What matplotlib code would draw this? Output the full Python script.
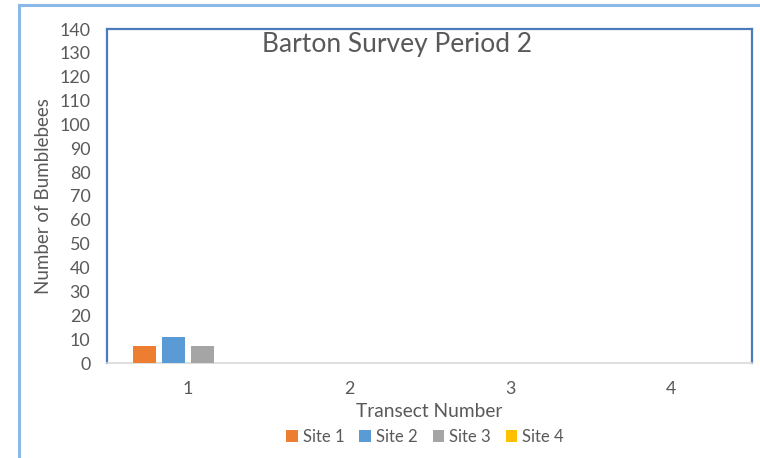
import matplotlib
matplotlib.use("Agg")
import matplotlib.pyplot as plt
from matplotlib.patches import Rectangle
import numpy as np

plt.rcParams['font.family'] = ['Lato', 'DejaVu Sans']

transects = ["1", "2", "3", "4"]
sites = ["Site 1", "Site 2", "Site 3", "Site 4"]
site1 = [7, 0, 0, 0]
site2 = [11, 0, 0, 0]
site3 = [7, 0, 0, 0]
site4 = [0, 0, 0, 0]
series = [site1, site2, site3, site4]
colors = ["#ed7d31", "#5b9bd5", "#a5a5a5", "#ffc000"]
yticks = list(range(0, 141, 10))

fig = plt.figure(figsize=(7.6, 4.58), dpi=100)
fig.patch.set_facecolor("white")

# outer chart frame
fig.patches.append(Rectangle((19 / 760, -0.05), 1.2, (458 - 5) / 458 + 0.05,
                             transform=fig.transFigure, fill=False,
                             edgecolor="#8ab8e8", linewidth=2.2, zorder=0))

ax = fig.add_axes([107 / 760, (458 - 363) / 458, (752 - 107) / 760, (363 - 29) / 458])

x = np.arange(len(transects))
width = 0.143
step = 0.18
for i, (vals, c, name) in enumerate(zip(series, colors, sites)):
    ax.bar(x + (i - 1.5) * step, vals, width=width, color=c, label=name, zorder=3)

ax.set_xlim(-0.5, len(transects) - 0.5)
ax.set_ylim(0, 140)
ax.set_yticks(yticks)
ax.set_yticklabels([str(v) for v in yticks])
ax.set_xticks(x)
ax.set_xticklabels(transects)
ax.tick_params(axis="both", length=0, labelsize=12.9, colors="#595959")
ax.tick_params(axis="y", pad=12)
ax.tick_params(axis="x", pad=13)

for s in ["left", "top", "right"]:
    ax.spines[s].set_color("#4a7bbd")
    ax.spines[s].set_linewidth(1.6)
ax.spines["bottom"].set_color("#d9d9d9")
ax.spines["bottom"].set_linewidth(1.2)

ax.set_ylabel("Number of Bumblebees", fontsize=13.5, color="#595959", labelpad=5)
ax.set_xlabel("Transect Number", fontsize=13.8, color="#595959", labelpad=4)

ax.text(0.45, 0.955, "Barton Survey Period 2", transform=ax.transAxes,
        ha="center", va="center", fontsize=19, color="#595959")

leg = fig.legend(loc="center", bbox_to_anchor=(425 / 760, 1 - 437 / 458), ncol=4,
                 frameon=False, fontsize=12, handlelength=0.7, handleheight=0.7,
                 handletextpad=0.3, columnspacing=0.9)
for t in leg.get_texts():
    t.set_color("#595959")

fig.savefig("out.png", dpi=100, facecolor="white")
